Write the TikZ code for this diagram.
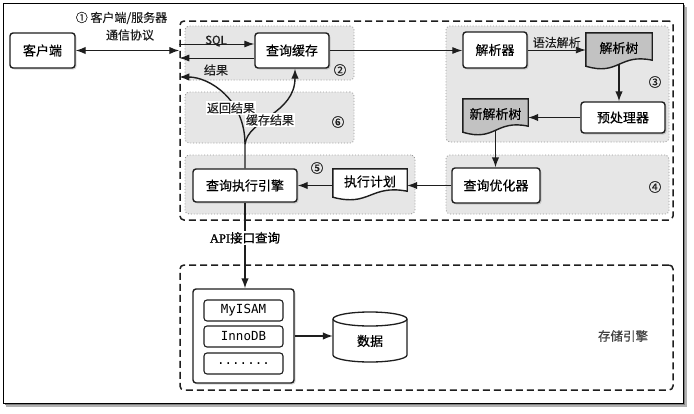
\documentclass[tikz,border=0pt]{standalone}
\usepackage{fontspec}
\setmainfont{Noto Sans CJK SC}[FakeBold=0.35]
\setmonofont{DejaVu Sans Mono}
\newfontfamily\lserif{Liberation Serif}[FakeBold=1]
\newfontfamily\boldcjk{Noto Sans CJK SC}[FakeBold=0.8]
\usetikzlibrary{arrows.meta,calc,shadows}
\pgfdeclarelayer{bg}
\pgfdeclarelayer{docs}
\pgfsetlayers{bg,docs,main}
\definecolor{regfill}{HTML}{E6E6E6}
\definecolor{regline}{HTML}{9A9A9A}
\definecolor{docfill}{HTML}{C2C2C2}
\definecolor{ink}{HTML}{1E1E1E}
\tikzset{
  boxtxt/.style={font=\fontsize{13}{15}\selectfont},
  lbl/.style={font=\fontsize{12}{13}\selectfont, inner sep=1pt, text=ink},
  numlbl/.style={font=\fontsize{12.5}{14}\selectfont, inner sep=0pt, text=ink},
  box/.style={boxtxt, draw=ink, line width=1.4pt, rounded corners=3pt, fill=white, inner sep=0pt,
    drop shadow={shadow xshift=1.5pt, shadow yshift=-1.5pt, opacity=0.3}},
  docnode/.style={boxtxt, inner sep=0pt},
  docline/.style={draw=ink, line width=1.4pt},
  region/.style={draw=regline, dotted, line width=0.9pt, fill=regfill, rounded corners=4pt, inner sep=0pt},
  dashbox/.style={draw=ink, line width=1.5pt, dash pattern=on 7pt off 4pt, rounded corners=4pt, inner sep=0pt},
  conn/.style={draw=ink, line width=1.4pt, -{Latex[length=10pt,width=7.5pt]}},
  thinconn/.style={draw=ink, line width=0.9pt, -{Latex[length=10pt,width=7pt]}},
  subbox/.style={draw=ink, line width=1.1pt, rounded corners=3pt, fill=white, inner sep=0pt,
    minimum width=79pt, minimum height=21pt, font=\ttfamily\fontsize{12.5}{14}\selectfont}
}
\newcommand\docshape[2]{%
  \begin{pgfonlayer}{docs}
  \draw[docline, fill=#2] (#1.north west) -- (#1.north east) -- ($(#1.south east)+(0,-3)$)
    .. controls ($(#1.south)+(0,-10)$) and ($(#1.south)+(0,13)$) .. ($(#1.south west)+(0,3)$) -- cycle;
  \end{pgfonlayer}}
\begin{document}
\begin{tikzpicture}[x=1pt, y=-1pt]
\useasboundingbox (0,0) rectangle (694,413);

\begin{pgfonlayer}{bg}
  \fill[black!30] (6,7) rectangle (687,407);
  \fill[black!50] (5,5) rectangle (685,405);
  \draw[line width=1pt, fill=white] (3,3) rectangle (683,403);
  \node[dashbox, minimum width=493pt, minimum height=199pt] (server) at (426.5,120.5) {};
  \node[dashbox, minimum width=493pt, minimum height=125pt] (storage) at (426.5,327.5) {};
  \node[region, minimum width=169pt, minimum height=54pt] (r2) at (269.5,53) {};
  \node[region, minimum width=169pt, minimum height=51pt] (r6) at (269.5,117.5) {};
  \node[region, minimum width=230pt, minimum height=59pt] (r5) at (300,184.5) {};
  \node[region, minimum width=223pt, minimum height=116pt] (r3) at (557.5,84) {};
  \node[region, minimum width=223pt, minimum height=59pt] (r4) at (557.5,184.5) {};
\end{pgfonlayer}

% nodes
\node[box, minimum width=65pt, minimum height=35pt] (client) at (42.5,50.5) {客户端};
\node[box, minimum width=74pt, minimum height=35pt] (cache) at (292,50.5) {查询缓存};
\node[box, minimum width=64pt, minimum height=36pt] (parser) at (495,50) {解析器};
\node[docnode, minimum width=66pt, minimum height=30pt] (ptree) at (619,48) {解析树};
\docshape{ptree}{docfill}
\node[box, minimum width=84pt, minimum height=31pt] (pre) at (623,117.5) {预处理器};
\node[docnode, minimum width=65pt, minimum height=30pt] (newtree) at (495.5,114) {新解析树};
\docshape{newtree}{docfill}
\node[box, minimum width=88pt, minimum height=35pt] (opt) at (496,185.5) {查询优化器};
\node[docnode, minimum width=74pt, minimum height=25pt] (plan) at (370,181.5) {执行计划};
\docshape{plan}{white}
\node[box, minimum width=104pt, minimum height=33pt] (exec) at (245,185.5) {查询执行引擎};

\node[box, minimum width=101pt, minimum height=94pt] (engine) at (243.5,336) {};
\node[subbox] (myisam) at (243.5,310.5) {MyISAM};
\node[subbox] (innodb) at (243.5,336.5) {InnoDB};
\node[subbox] (more) at (243.5,363.5) {.......};

\node[boxtxt, minimum width=74pt, minimum height=50pt, inner sep=0pt] (db) at (370,337) {};
\begin{pgfonlayer}{docs}
\draw[docline, line width=1.3pt, fill=white] (333,319) -- (333,355)
  arc[start angle=180, end angle=360, x radius=37pt, y radius=7pt] -- (407,319)
  arc[start angle=0, end angle=180, x radius=37pt, y radius=7pt] -- cycle;
\draw[docline, line width=1.3pt] (333,319) arc[start angle=180, end angle=360, x radius=37pt, y radius=7pt];
\end{pgfonlayer}
\node[boxtxt] (dbtxt) at (370,341) {数据};

% labels
\node[lbl] (proto1) at (121.5,18) {① 客户端/服务器};
\node[lbl] (proto2) at (130,35) {通信协议};
\node[lbl, font=\boldcjk\fontsize{11.5}{13}\selectfont] (sqllbl) at (216,41) {SQL};
\node[lbl] (reslbl) at (216,70) {结果};
\node[numlbl] (n2) at (340,70) {②};
\node[numlbl] (n6) at (338,122) {⑥};
\node[numlbl] (n5) at (317,168) {⑤};
\node[numlbl] (n3) at (655,82) {③};
\node[numlbl] (n4) at (655,187) {④};
\node[font=\fontsize{12.5}{14}\selectfont, text=black!75] (store) at (623,336) {存储引擎};

% connectors
\draw[conn, {Latex[length=10pt,width=7.5pt]}-{Latex[length=10pt,width=7.5pt]}] (client) -- (client -| server.west);
\draw[thinconn] ([yshift=6.5pt]cache.west -| server.west) -- ([yshift=6.5pt]cache.west);
\draw[thinconn] ([yshift=-7.5pt]cache.west) -- ([yshift=-7.5pt]cache.west -| server.west);
\draw[thinconn] (cache.east) -- (cache.east -| parser.west);
\draw[thinconn] (parser.east) -- node[lbl, above, inner sep=1.5pt] (synlbl) {语法解析} (parser.east -| ptree.west);
\draw[conn] ([yshift=-1pt]ptree.south) -- (ptree.south |- pre.north);
\draw[conn] (pre.west) -- (pre.west -| newtree.east);
\draw[conn] ([yshift=-1pt]newtree.south) -- (newtree.south |- opt.north);
\draw[conn] (opt.west) -- (opt.west -| plan.east);
\draw[conn] (exec.east -| plan.west) -- (exec.east);

\path (server.west) ++(0,-43.5) coordinate (retin);
\draw[conn] (exec.north) -- ++(0,-24) coordinate (fork) .. controls +(0,-45) and +(30,0) .. (retin);
\draw[conn] (fork) .. controls +(3,-25) and +(0,45) .. ([xshift=3pt]cache.south);
\node[lbl, fill=white] (retlbl) at (231,108) {返回结果};
\node[lbl, fill=white] (cachelbl) at (270,120) {缓存结果};

\draw[conn] (exec.south) -- node[pos=0.41, fill=white, inner sep=1.5pt, font=\boldcjk\fontsize{12.5}{14}\selectfont] (apilbl) {{\lserif API}接口查询} (exec.south |- engine.north);
\draw[conn] (engine.east) -- (engine.east -| db.west);
\end{tikzpicture}
\end{document}
